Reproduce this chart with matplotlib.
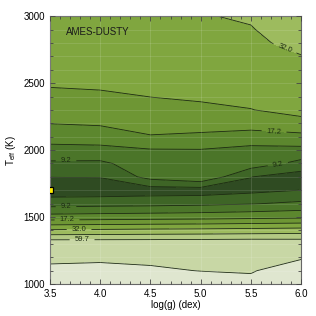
import numpy as np
import matplotlib
matplotlib.use('Agg')
import matplotlib.pyplot as plt
from matplotlib.ticker import MultipleLocator

plt.rcParams['font.family'] = ['Liberation Sans', 'DejaVu Sans']
plt.rcParams['mathtext.fontset'] = 'custom'
plt.rcParams['mathtext.rm'] = 'Liberation Sans'
plt.rcParams['mathtext.it'] = 'Liberation Sans:italic'

# model grid
logg = [3.5, 4.0, 4.5, 5.0, 5.5, 6.0]
teff = [1000, 1100, 1200, 1300, 1400, 1500, 1600, 1700, 1800, 1900, 2000,
        2100, 2200, 2300, 2400, 2500, 2600, 2700, 2800, 2900, 3000]

# chi2 per (teff row, logg column)
chi2 = [
    [95.4, 95.4, 89.7, 86.9, 84.2, 95.4],
    [84.2, 84.8, 82.9, 81.4, 80.9, 86.9],
    [79.1, 79.6, 79.6, 79.9, 79.9, 80.6],
    [76.7, 76.7, 76.7, 77.2, 77.9, 76.7],
    [33.7, 34.3, 35.0, 35.5, 36.3, 37.2],
    [14.3, 14.6, 14.9, 15.2, 15.7, 16.2],
    [8.07, 8.25, 8.38, 8.64, 9.06, 9.79],
    [5.59, 5.59, 5.76, 5.76, 6.23, 6.78],
    [6.78, 6.82, 10.2, 11.9, 6.78, 5.76],
    [8.73, 8.67, 11.0, 12.1, 10.9, 8.38],
    [11.4, 11.5, 12.3, 12.4, 11.4, 11.5],
    [14.3, 14.7, 16.9, 16.4, 15.4, 15.9],
    [17.3, 17.8, 19.2, 19.1, 19.3, 21.0],
    [19.4, 19.9, 21.3, 21.9, 23.3, 26.2],
    [21.7, 22.2, 23.6, 24.6, 25.4, 27.4],
    [24.4, 25.0, 24.4, 26.2, 26.6, 28.7],
    [25.2, 25.6, 25.3, 27.4, 27.8, 30.1],
    [25.8, 26.1, 26.2, 28.5, 29.2, 31.7],
    [26.9, 27.2, 27.2, 29.6, 30.3, 34.6],
    [28.0, 28.4, 28.2, 30.6, 31.5, 37.4],
    [29.2, 29.6, 29.2, 31.5, 33.0, 39.8],
]

levels = [4.93, 6.74, 9.2, 12.6, 17.2, 23.5, 32.0, 43.7, 59.7, 81.6]
label_levels = [9.2, 17.2, 32.0, 59.7]
label_pos = [(3.66, 1925), (3.66, 1565), (3.67, 1478), (3.79, 1405),
             (3.82, 1340), (5.73, 2135), (5.77, 1885), (5.86, 2800)]
band_colors = ['#2a441e', '#2f4b22', '#3e6526', '#4b7529', '#5c872e', '#6e9634',
               '#80a63f', '#9dbb5e', '#b3c983', '#c8d7a5', '#dfe6cf']

best = (3.5, 1700)

fig = plt.figure(figsize=(3.16, 3.16), dpi=100)
ax = fig.add_axes([0.158, 0.101, 0.795, 0.848])

X, Y = np.meshgrid(logg, teff)
Z = np.log(np.array(chi2))
bounds = [1.0] + levels + [1000.0]
ax.contourf(X, Y, Z, levels=np.log(bounds), colors=band_colors)

plain = [l for l in levels if l not in label_levels]
ax.contour(X, Y, Z, levels=np.log(plain), colors='#1c2a12', linewidths=0.6)
cs = ax.contour(X, Y, Z, levels=np.log(label_levels), colors='#1c2a12', linewidths=0.6)
ax.clabel(cs, inline=True, fontsize=5.5, fmt=lambda v: '%.1f' % np.exp(v),
          manual=label_pos)

ax.plot(best[0], best[1], 's', ms=5, mfc='#ffee00', mec='k', mew=0.9, zorder=5)

ax.set_xlim(3.5, 6.0)
ax.set_ylim(1000, 3000)
ax.xaxis.set_major_locator(MultipleLocator(0.5))
ax.xaxis.set_minor_locator(MultipleLocator(0.1))
ax.yaxis.set_major_locator(MultipleLocator(500))
ax.yaxis.set_minor_locator(MultipleLocator(100))
ax.xaxis.set_major_formatter(plt.FormatStrFormatter('%.1f'))
ax.grid(True, which='major', axis='x', color='w', alpha=0.15, lw=0.6)
ax.grid(True, which='both', axis='y', color='w', alpha=0.13, lw=0.6)
ax.set_axisbelow(False)
ax.tick_params(which='both', direction='in', top=True, right=True, labelsize=7,
               color='#444444', width=0.6)
ax.tick_params(which='major', length=3.5)
ax.tick_params(which='minor', length=2)
for s in ax.spines.values():
    s.set_color('#666666')
    s.set_linewidth(0.8)

ax.set_xlabel('log(g) (dex)', fontsize=7, labelpad=1)
ax.set_ylabel(r'T$_{\rm eff}$ (K)', fontsize=7, labelpad=4)
ax.text(0.065, 0.94, 'AMES-DUSTY', transform=ax.transAxes, fontsize=7,
        va='center', color='#1a1a1a')

fig.savefig('out.png', dpi=100)
